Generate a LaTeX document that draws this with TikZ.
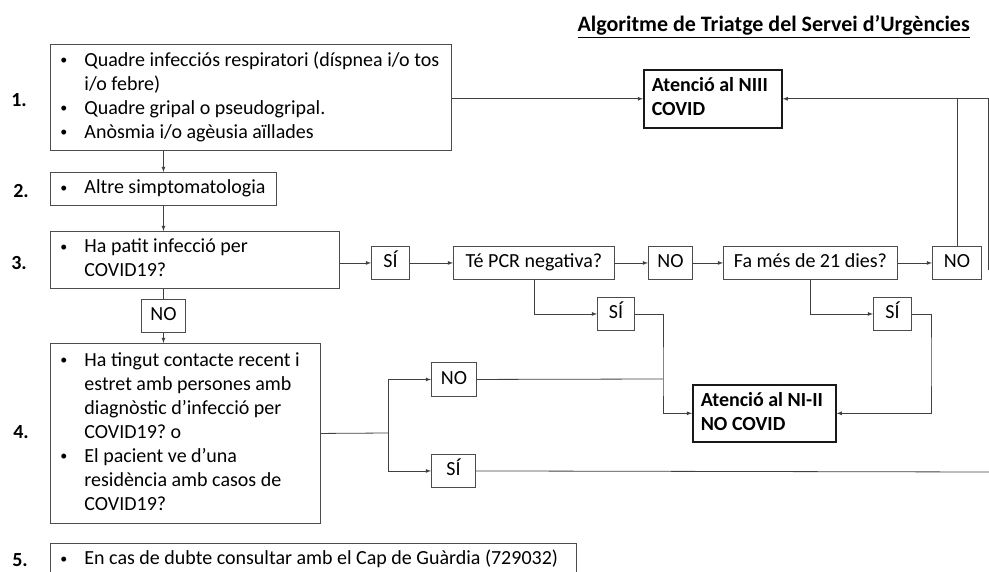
\documentclass[tikz,border=0pt]{standalone}
\usepackage{fontspec}
\setmainfont{Carlito}
\usepackage{tikz}
\usetikzlibrary{arrows}

% bullet list inside a box
\newcommand{\bl}{\raisebox{1.5pt}{\fontsize{14}{14}\selectfont\textbullet}}
\newcommand{\blist}[2]{\makebox[#1][l]{\begin{tabular}{@{}p{24pt}@{}l@{}}#2\end{tabular}}}
\newcommand{\twolines}[3]{\makebox[#1][l]{\begin{tabular}{@{}l@{}}#2\\#3\end{tabular}}}

\begin{document}
\frenchspacing
\begin{tikzpicture}[
    x=1pt, y=-1pt,
    font=\fontsize{20}{24}\selectfont,
    box/.style={rectangle, draw=black!70, line width=0.9pt, anchor=north west, inner xsep=10pt, inner ysep=0pt},
    ans/.style={rectangle, draw=black!70, line width=0.9pt, anchor=north west, inner sep=0pt, text height=14pt, text depth=4pt, minimum height=33pt},
    goal/.style={rectangle, draw=black!90, line width=1.6pt, anchor=north west, inner xsep=8pt, inner ysep=0pt, font=\fontsize{20}{24}\selectfont\bfseries},
    stepnum/.style={font=\fontsize{20}{24}\selectfont\bfseries},
    line/.style={line width=0.8pt, black!75},
    arrow/.style={line, -latex}
]
    \useasboundingbox (0,0) rectangle (989,572);

    % Title
    \node[anchor=base west, font=\fontsize{22}{26}\selectfont\bfseries] (title) at (574,32) {\underline{Algoritme de Triatge del Servei d’Urgències}};

    % Steps
    \node[stepnum] (n1) at (19,100) {1.};
    \node[stepnum] (n2) at (21,191) {2.};
    \node[stepnum] (n3) at (19,263) {3.};
    \node[stepnum] (n4) at (21,432) {4.};
    \node[stepnum] (n5) at (20,560) {5.};

    \node[box, minimum height=106pt] (box1) at (50,44) {\blist{381pt}{
        \bl & Quadre infecciós respiratori (díspnea i/o tos\\
            & i/o febre)\\
        \bl & Quadre gripal o pseudogripal.\\
        \bl & Anòsmia i/o agèusia aïllades}};
    \node[box, minimum height=33pt] (box2) at (50,172) {\blist{206pt}{
        \bl & Altre simptomatologia}};
    \node[box, minimum height=57pt] (box3) at (50,231) {\blist{269pt}{
        \bl & Ha patit infecció per\\
            & COVID19?}};
    \node[box, minimum height=180pt] (box4) at (50,343) {\blist{250pt}{
        \bl & Ha tingut contacte recent i\\
            & estret amb persones amb\\
            & diagnòstic d’infecció per\\
            & COVID19? o\\
        \bl & El pacient ve d’una\\
            & residència amb casos de\\
            & COVID19?}};
    \node[box, minimum height=33pt] (box5) at (50,543) {\blist{506pt}{
        \bl & En cas de dubte consultar amb el Cap de Guàrdia (729032)}};

    % Answers and questions
    \node[ans, minimum width=44pt] (no3) at (141,299) {NO};
    \node[ans, minimum width=38pt] (si3) at (371,246) {SÍ};
    \node[ans, minimum width=161pt] (pcr) at (453,246) {Té PCR negativa?};
    \node[ans, minimum width=44pt] (no1) at (648,246) {NO};
    \node[ans, minimum width=174pt] (dies) at (723,246) {Fa més de 21 dies?};
    \node[ans, minimum width=49pt] (no2) at (932,246) {NO};
    \node[ans, minimum width=37pt] (si1) at (597,297) {SÍ};
    \node[ans, minimum width=38pt] (si2) at (873,297) {SÍ};
    \node[ans, minimum width=45pt, minimum height=34pt] (noC) at (431,362) {NO};
    \node[ans, minimum width=44pt] (siR) at (431,454) {SÍ};

    % Destinations
    \node[goal, minimum height=58pt] (niii) at (643,69) {\twolines{122pt}{Atenció al NIII}{COVID}};
    \node[goal, minimum height=57pt] (ni2) at (692,384) {\twolines{127pt}{Atenció al NI-II}{NO COVID}};

    % Junctions
    \coordinate (fork) at (388,433);
    \coordinate (mergeL) at (663,379);
    \coordinate (mergeR) at (931,360);
    \coordinate (rimB) at (988,270);
    \coordinate (rimR) at (989,472);

    % Paths
    \draw[arrow] (box1.south -| box2.north) -- (box2.north);
    \draw[arrow] (box2.south) -- (box2.south |- box3.north);
    \draw[line] (box3.south -| no3.north) -- (no3.north);
    \draw[arrow] (no3.south) -- (no3.south |- box4.north);
    \draw[arrow] (box1.east |- niii.west) -- (niii.west);
    \draw[arrow] (box3.east |- si3.west) -- (si3.west);
    \draw[arrow] (si3) -- (pcr);
    \draw[arrow] (pcr) -- (no1);
    \draw[arrow] (no1) -- (dies);
    \draw[arrow] (dies) -- (no2);
    \draw[arrow] (no2.north) |- (niii.east);
    \draw[line] (rimB) |- (no2.north |- niii.east);
    \draw[arrow] (pcr.south) |- (si1.west);
    \draw[arrow] (si1.east) -| (mergeL) |- (ni2.west);
    \draw[arrow] (dies.south) |- (si2.west);
    \draw[arrow] (si2.east) -| (mergeR) |- (ni2.east);
    \draw[line] (box4.east) -- (fork);
    \draw[arrow] (fork) |- (noC.west);
    \draw[arrow] (fork) |- (siR.west);
    \draw[line] (noC.east) -- (mergeL);
    \draw[line] (siR.east) -- (rimR);
\end{tikzpicture}
\end{document}
